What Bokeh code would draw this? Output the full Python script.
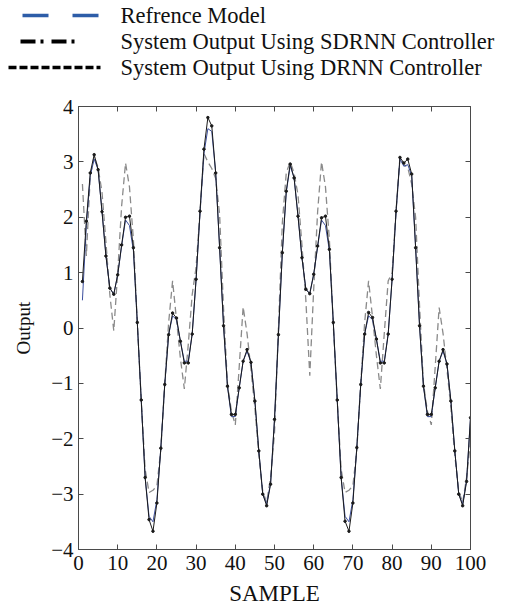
from bokeh.plotting import figure
from bokeh.models import Range1d, LinearAxis, FixedTicker, CustomJSTickFormatter
from bokeh.core.properties import value
from bokeh.layouts import column
from bokeh.embed import file_html
from bokeh.resources import INLINE

sample = list(range(1, 101))

reference = [
    2.60, 1.30, 2.75, 3.10, 2.90, 2.45, 1.55, 0.60, -0.05, 1.00,
    2.20, 2.98, 2.55, 1.60, 0.10, -1.30, -2.55, -2.97, -2.93, -2.85,
    -2.20, -1.00, 0.10, 0.85, 0.15, -0.55, -1.10, -0.30, 0.60, 1.10,
    2.10, 3.15, 3.00, 2.88, 2.70, 2.05, 0.35, -1.00, -1.50, -1.75,
    -0.70, 0.38, -0.10, -0.75, -1.45, -2.30, -2.95, -3.15, -2.70, -1.90,
    0.00, 1.90, 2.80, 3.00, 2.80, 2.40, 1.50, 0.50, -0.86, 0.70,
    2.10, 3.00, 2.55, 1.60, 0.05, -1.30, -2.55, -2.97, -2.93, -2.85,
    -2.20, -1.00, 0.10, 0.85, 0.20, -0.50, -1.10, -0.10, 0.85, 1.00,
    2.10, 3.08, 2.95, 2.90, 2.60, 2.00, 0.40, -1.00, -1.50, -1.75,
    -0.70, 0.37, -0.10, -0.75, -1.45, -2.30, -2.95, -3.15, -2.70, -2.05,
]

sdrnn = [
    0.84, 1.93, 2.80, 3.13, 2.86, 2.10, 1.30, 0.72, 0.61, 0.96,
    1.50, 2.00, 2.02, 1.45, 0.10, -1.30, -2.70, -3.46, -3.67, -3.16,
    -2.17, -1.02, -0.12, 0.27, 0.18, -0.24, -0.63, -0.63, -0.11, 0.88,
    2.11, 3.23, 3.80, 3.65, 2.80, 1.45, 0.04, -1.05, -1.56, -1.56,
    -1.08, -0.60, -0.39, -0.62, -1.32, -2.22, -3.00, -3.21, -2.82, -1.65,
    -0.12, 1.36, 2.47, 2.96, 2.71, 2.02, 1.27, 0.70, 0.62, 0.97,
    1.48, 1.99, 2.02, 1.42, 0.10, -1.30, -2.70, -3.49, -3.67, -3.16,
    -2.16, -1.02, -0.11, 0.28, 0.19, -0.20, -0.63, -0.63, -0.11, 0.88,
    2.11, 3.08, 2.98, 3.05, 2.78, 1.45, 0.04, -1.05, -1.56, -1.56,
    -1.08, -0.60, -0.39, -0.65, -1.32, -2.22, -3.00, -3.21, -2.77, -1.62,
]

drnn = [
    0.50, 1.85, 2.75, 3.05, 2.86, 2.10, 1.30, 0.72, 0.61, 0.96,
    1.48, 1.95, 1.85, 1.40, 0.10, -1.30, -2.70, -3.40, -3.50, -3.10,
    -2.17, -1.02, -0.12, 0.22, 0.15, -0.24, -0.60, -0.60, -0.11, 0.88,
    2.08, 3.15, 3.60, 3.55, 2.80, 1.45, 0.04, -1.05, -1.60, -1.60,
    -1.08, -0.60, -0.42, -0.62, -1.32, -2.22, -3.00, -3.18, -2.80, -1.65,
    -0.12, 1.36, 2.45, 2.93, 2.71, 2.02, 1.27, 0.70, 0.62, 0.97,
    1.46, 1.95, 1.85, 1.40, 0.10, -1.30, -2.70, -3.40, -3.50, -3.10,
    -2.16, -1.02, -0.11, 0.22, 0.15, -0.20, -0.60, -0.60, -0.11, 0.88,
    2.08, 3.05, 2.92, 2.95, 2.75, 1.45, 0.04, -1.05, -1.60, -1.60,
    -1.08, -0.60, -0.42, -0.65, -1.32, -2.22, -3.00, -3.18, -2.75, -1.62,
]

x_ticks = list(range(0, 101, 10))
y_ticks = list(range(-4, 5))
series_labels = [
    "Refrence Model",
    "System Output Using SDRNN Controller",
    "System Output Using DRNN Controller",
]

FONT = "Liberation Serif"
AX = "#4a4a4a"
TXT = "#111111"

# ---- legend strip (drawn in a pixel-unit figure) ----
LW, LH = 500, 88
leg = figure(width=LW, height=LH, x_range=Range1d(0, LW), y_range=Range1d(0, LH),
             output_backend="svg", toolbar_location=None, min_border=0,
             x_axis_location=None, y_axis_location=None)
leg.frame_align = False
leg.grid.visible = False
leg.outline_line_color = None
leg_rows = [LH - 15, LH - 41, LH - 67]
leg.line([22, 98], [leg_rows[0]] * 2, line_color="#2d5da8", line_width=3.5, line_dash="26 24")
leg.line([20, 80], [leg_rows[1]] * 2, line_color="black", line_width=4, line_dash="15 5 3 8")
leg.line([8, 100], [leg_rows[2]] * 2, line_color="black", line_width=3.5, line_dash="8 3")
leg.text(x=[120] * 3, y=leg_rows, text=series_labels, text_font=value(FONT),
         text_font_size="22.5px", text_color=TXT, text_baseline="middle", text_align="left")

# ---- main plot ----
p = figure(width=500, height=525, x_range=Range1d(0, 100), y_range=Range1d(-4, 4),
           output_backend="svg", toolbar_location=None,
           min_border_left=78, min_border_right=30, min_border_top=18, min_border_bottom=64)
p.frame_align = False
p.grid.visible = False
p.outline_line_color = AX

p.line(sample, reference, line_color="#8a8a8a", line_width=1.3, line_dash="7 4")
p.line(sample, drnn, line_color="#3c4f9e", line_width=1.0)
p.line(sample, sdrnn, line_color="#1a1a1a", line_width=1.0)
p.scatter(sample, sdrnn, size=2.5, color="#1a1a1a")

for ax, ticks in ((p.xaxis[0], x_ticks), (p.yaxis[0], y_ticks)):
    ax.ticker = FixedTicker(ticks=ticks)
    ax.major_tick_in = 5
    ax.major_tick_out = 0
    ax.minor_tick_line_color = None
    ax.axis_line_color = AX
    ax.major_tick_line_color = AX
    ax.major_label_text_font = FONT
    ax.major_label_text_font_size = "21px"
    ax.major_label_text_color = TXT
    ax.axis_label_text_font = FONT
    ax.axis_label_text_font_style = "normal"
    ax.axis_label_text_color = TXT

p.xaxis.axis_label = "SAMPLE"
p.xaxis.axis_label_text_font_size = "23px"
p.xaxis.major_label_standoff = 6
p.xaxis.axis_label_standoff = 8
p.yaxis.axis_label = "Output"
p.yaxis.axis_label_text_font_size = "19px"
p.yaxis.major_label_standoff = 5
p.yaxis.axis_label_standoff = 14

blank = CustomJSTickFormatter(code="return ''")
for loc, ticks in (("above", x_ticks), ("right", y_ticks)):
    a = LinearAxis(ticker=FixedTicker(ticks=ticks), major_tick_in=5, major_tick_out=0,
                   minor_tick_line_color=None, axis_line_color=AX, major_tick_line_color=AX,
                   formatter=blank, major_label_standoff=0)
    p.add_layout(a, loc)

layout = column(leg, p)
open("out.html", "w").write(file_html(layout, INLINE))
